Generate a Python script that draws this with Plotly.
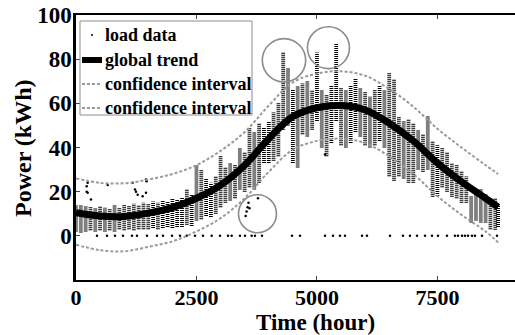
import plotly.graph_objects as go

# ---- data ----
trend_x = [0, 500, 1000, 1500, 2000, 2500, 3000, 3500, 4000, 4500, 5000, 5500, 6000, 6500, 7000, 7500, 8000, 8500, 8760]
trend_y = [10.5, 9, 8.8, 10.3, 12.8, 17, 23, 32, 44, 54, 58, 59, 57, 51, 43, 33, 24.5, 17, 13]
ci_upper = [26, 24, 23.8, 25.5, 28, 32, 38.5, 47, 59, 69.5, 73.5, 74.5, 72.5, 66.5, 58.5, 48.5, 40, 32, 28]
ci_lower = [-4, -6.5, -7, -5, -2.5, 2, 8, 17, 29, 39, 43, 44, 42, 36, 28, 18, 9.5, 2, -3]

load_x = list(range(0, 8800, 100)) + [8760]
load_lo = [2, 1.5, 2, 2.5, 2, 2.5, 2, 2.5, 2, 3, 2.5, 3, 2.5, 3, 3, 3, 3.5, 3, 3.5, 4,
           3.5, 4, 4, 5, 4.5, 7, 7.5, 9, 8.5, 10, 13, 15, 16, 17, 21, 20, 22, 21, 24, 33,
           33, 34, 36, 48, 50, 33, 31, 46, 45, 48, 52, 40, 36, 42, 52, 41, 40, 42, 47, 45,
           41, 40, 41, 43, 40, 27, 25, 27, 26, 24, 24, 30, 29, 30, 17.7, 18, 22, 20, 17.7, 17,
           15, 15, 6, 7, 6, 6, 3, 2.7, 4]
load_hi = [14, 14, 13.5, 13, 12.5, 13.5, 13, 12.5, 14, 13, 14, 13.5, 14.5, 14, 15, 14.5, 15.5, 15, 16, 15.5,
           17, 16.5, 17.5, 21, 19, 32, 30, 26, 24, 27, 36, 31, 33, 32, 40, 38, 49, 47, 51, 49,
           52, 56, 60, 83, 76, 66, 68, 69, 70, 66, 83, 66, 64, 68, 87, 67, 66, 68, 71, 67,
           65, 63, 66, 68, 66, 74, 71, 54, 52, 53, 51, 48, 46, 54, 43, 41, 40, 38, 33, 32,
           29, 27, 18, 20, 21, 19, 17.5, 17, 14]

# isolated points (outliers) and zero readings
pts_x = [222, 222, 242, 242, 311, 657, 1176, 1224, 1245, 1280, 1383, 1452, 1452, 1466,
         3520, 3540, 3560, 3580, 3600, 3776, 5167]
pts_y = [20, 22.4, 19.5, 24, 16.4, 23, 24, 21, 20, 18.6, 17.9, 25.5, 19.5, 24.7,
         9, 11, 13, 15, 12.5, 17, 36.8]
zero_x = [436, 643, 809, 975, 1162, 1266, 1473, 1681, 1805, 1992, 2158, 2297, 2469, 2635,
          2816, 2988, 3154, 3230, 3403, 3507, 3645, 3714, 3860, 4482, 4648, 5167, 5333, 5478,
          5582, 5935, 6038, 6516, 6785, 6930, 7076, 7242, 7387, 7512, 7698, 7864, 7927, 8010,
          8072, 8134, 8217, 8279, 8425, 8736]
zero_y = [0] * len(zero_x)

x_ticks = [0, 2500, 5000, 7500]
y_ticks = [0, 20, 40, 60, 80, 100]

legend_labels = ["load data", "global trend", "confidence interval", "confidence interval"]

FONT = "Liberation Serif, Times New Roman, serif"
GRAY = "#9a9a9a"

# ---- build ----
seg_x, seg_y = [], []
for x, lo, hi in zip(load_x, load_lo, load_hi):
    seg_x += [x, x, None]
    seg_y += [lo, hi, None]

fig = go.Figure()
fig.add_trace(go.Scatter(x=seg_x, y=seg_y, mode="lines",
                         line=dict(color="black", width=3.8, dash="1px,1px"),
                         showlegend=False, hoverinfo="skip"))
fig.add_trace(go.Scatter(x=pts_x + zero_x, y=pts_y + zero_y, mode="markers",
                         marker=dict(color="black", size=2.5), showlegend=False))
fig.add_trace(go.Scatter(x=trend_x, y=trend_y, mode="lines", line_shape="spline",
                         line=dict(color="black", width=7), showlegend=False))
for ci in (ci_upper, ci_lower):
    fig.add_trace(go.Scatter(x=trend_x, y=ci, mode="lines", line_shape="spline",
                             line=dict(color=GRAY, width=2, dash="3px,2px"), showlegend=False))

# circles marking peaks / anomalies
shapes = []
for cx, cy, rx, ry in [(4316, 79.5, 450, 9.8), (5239, 85.2, 436, 9.5), (3766, 10, 394, 8.6)]:
    shapes.append(dict(type="circle", xref="x", yref="y", x0=cx - rx, x1=cx + rx,
                       y0=cy - ry, y1=cy + ry, line=dict(color="#8c8c8c", width=1.6)))

# manual legend (pixel -> paper)
L, R, T, B = 76, 515, 15, 280
px = lambda p: (p - L) / (R - L)
py = lambda p: (B - p) / (B - T)
shapes.append(dict(type="rect", xref="paper", yref="paper", x0=px(80), x1=px(252), y0=py(115), y1=py(21),
                   line=dict(color="#8c8c8c", width=1), fillcolor="white", layer="above"))
rows = [35, 60, 84, 108]
shapes.append(dict(type="circle", xref="paper", yref="paper", x0=px(91), x1=px(93), y0=py(36), y1=py(34),
                   fillcolor="black", line=dict(color="black", width=0), layer="above"))
shapes.append(dict(type="line", xref="paper", yref="paper", x0=px(82), x1=px(102), y0=py(60), y1=py(60),
                   line=dict(color="black", width=6), layer="above"))
for r in rows[2:]:
    shapes.append(dict(type="line", xref="paper", yref="paper", x0=px(82), x1=px(102), y0=py(r), y1=py(r),
                       line=dict(color=GRAY, width=2, dash="3px,2px"), layer="above"))
annotations = []
for lab, r in zip(legend_labels, rows):
    annotations.append(dict(text="<b>%s</b>" % lab, xref="paper", yref="paper", x=px(103), y=py(r),
                            xanchor="left", yanchor="middle", showarrow=False,
                            font=dict(family=FONT, size=18, color="black")))
annotations.append(dict(text="<b>Time (hour)</b>", xref="paper", yref="paper", x=px(315), y=py(336),
                        xanchor="center", yanchor="bottom", showarrow=False, borderpad=0,
                        font=dict(family=FONT, size=23, color="black")))
annotations.append(dict(text="<b>Power (kWh)</b>", xref="paper", yref="paper", x=px(23), y=py(148),
                        xanchor="center", yanchor="middle", showarrow=False, textangle=-90,
                        font=dict(family=FONT, size=24, color="black")))

fig.update_layout(
    width=515, height=335, margin=dict(l=76, r=0, t=15, b=55),
    paper_bgcolor="white", plot_bgcolor="white",
    font=dict(family=FONT, color="black"),
    shapes=shapes, annotations=annotations, showlegend=False,
)
fig.update_xaxes(range=[0, 9110], tickvals=x_ticks, ticktext=["<b>%d</b>" % v for v in x_ticks],
                 tickfont=dict(family=FONT, size=22), ticks="inside", ticklen=4, tickcolor="#444",
                 ticklabelstandoff=-3,
                 showline=True, linecolor="black", linewidth=2, mirror="ticks", showgrid=False, zeroline=False)
fig.update_yaxes(range=[-20, 100], tickvals=y_ticks, ticktext=["<b>%d</b>" % v for v in y_ticks],
                 tickfont=dict(family=FONT, size=23), ticks="inside", ticklen=4, tickcolor="#444",
                 ticklabelstandoff=-3,
                 showline=True, linecolor="black", linewidth=2.5, showgrid=False, zeroline=False)

fig.write_html("out.html")
